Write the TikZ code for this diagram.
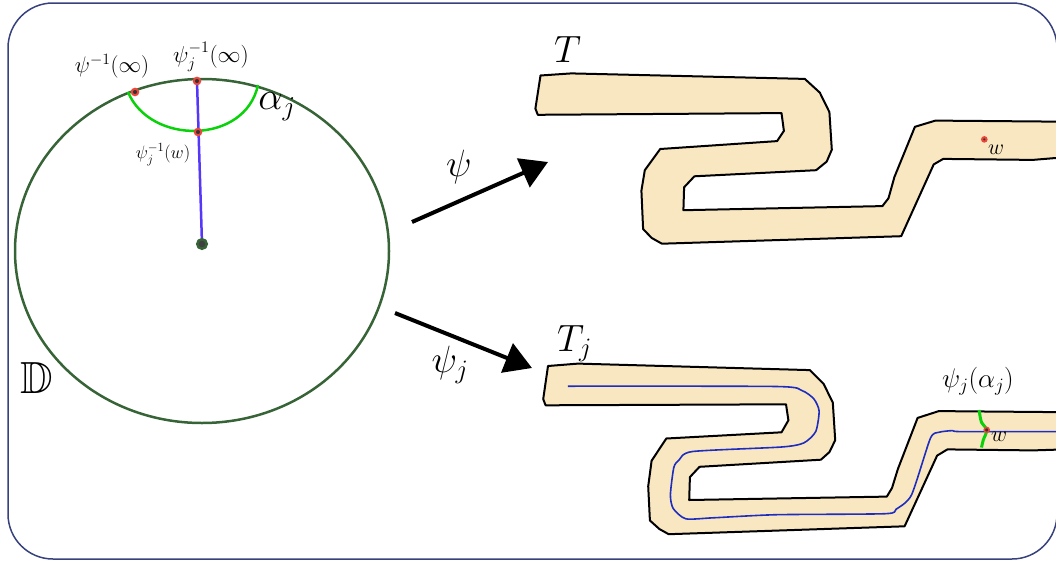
\RequirePackage{fix-cm}
\documentclass[tikz,border=0pt]{standalone}
\usepackage{amssymb}
\DeclareFontFamily{U}{msb}{}
\DeclareFontShape{U}{msb}{m}{n}{<-6> msbm5 <6-8> msbm7 <8-> msbm10}{}
\usetikzlibrary{arrows.meta}
\definecolor{frameblue}{RGB}{55,65,125}
\definecolor{diskgreen}{RGB}{55,100,55}
\definecolor{arcgreen}{RGB}{10,210,10}
\definecolor{tanfill}{RGB}{249,231,194}
\definecolor{curveblue}{RGB}{30,45,190}
\definecolor{radblue}{RGB}{85,55,250}
\definecolor{ptred}{RGB}{235,70,60}
\begin{document}
\begin{tikzpicture}[x=1pt,y=-1pt,
  lab/.style={inner sep=0pt, font=\fontsize{#1}{#1}\selectfont},
  tshape/.style={draw=black, fill=tanfill, line width=2pt, line join=round},
  ptn/.style={circle, fill=black!80, draw=ptred, line width=2pt, minimum size=6.5pt, inner sep=0pt},
  smallpt/.style={circle, fill=black!80, draw=ptred, line width=2pt, minimum size=4.5pt, inner sep=0pt},
  mapar/.style={line width=4pt, -{Triangle[length=27pt,width=31pt]}},
  arcg/.style={arcgreen, line width=2.5pt}
]
\useasboundingbox (0,0) rectangle (1056,562);
% frame
\draw[frameblue, line width=1.5pt, rounded corners=45pt] (8,3) rectangle (1057,559);
% disk
\draw[diskgreen, line width=2.5pt] (202,251) ellipse [x radius=187, y radius=172];
\coordinate (P1) at (135,92);
\coordinate (P2) at (197,81);
\coordinate (P3) at (198,132);
\coordinate (C0) at (202,244);
\coordinate (A1) at (128,92);
\coordinate (A2) at (258,85);
\draw[radblue, line width=2.5pt] (P2) -- (C0);
\draw[arcg] (A1) .. controls (150,145) and (245,145) .. (A2);
\node[ptn] (p1) at (P1) {};
\node[ptn] (p2) at (P2) {};
\node[ptn] (p3) at (P3) {};
\node[circle, fill=black!75, draw=diskgreen, line width=2.5pt, minimum size=9.5pt, inner sep=0pt] (c0) at (C0) {};
\node[lab=22.5] (l1) at (112,66) {$\psi^{-1}(\infty)$};
\node[lab=23] (l2) at (211,57) {$\psi_j^{-1}(\infty)$};
\node[lab=18] (l3) at (163,155) {$\psi_j^{-1}(w)$};
\node[lab=39] (l4) at (277,107) {$\alpha_j$};
\node[lab=45] (dd) at (37,378) {$\mathbb{D}$};
% arrows
\coordinate (s1) at (412,222);
\coordinate (e1) at (548,162);
\coordinate (s2) at (395,313);
\coordinate (e2) at (532,368);
\draw[mapar] (s1) -- (e1);
\draw[mapar] (s2) -- (e2);
\node[lab=38] (psi) at (459,167) {$\psi$};
\node[lab=38] (psij) at (450,365) {$\psi_j$};
% T
\draw[tshape] (540.5,75.5) -- (571.3,73.4) -- (804.8,78.9) -- (819.8,92.6) -- (829.4,112.1)
  -- (831.8,149.7) -- (826.7,161.6) -- (816.1,170.2) -- (694.4,176.3) -- (684.1,187.3)
  -- (683.4,210.2) -- (882.4,206.1) -- (888.5,198.2) -- (894.4,177.0) -- (914.9,126.8)
  -- (935.4,120.6) -- (1053.3,121.6) -- (1075,121.6) -- (1075,158) -- (1053.3,158.2) -- (1032.8,159.9)
  -- (943.2,158.9) -- (933.7,164.4) -- (901.2,236.2) -- (661.9,243.7) -- (651.6,237.9)
  -- (643.1,229.0) -- (641.4,190.7) -- (644.8,170.2) -- (660.2,149.0) -- (777.1,141.1)
  -- (783.9,130.9) -- (781.5,113.1) -- (537.8,114.8) -- (535.4,108.6) -- cycle;
\node[smallpt] (wt) at (984.3,139.4) {};
\node[lab=22] (wtl) at (996,150) {$w$};
\node[lab=38, anchor=base west] (tl) at (554,62.5) {$T$};
% Tj
\draw[tshape] (548.0,366.0) -- (578.1,363.6) -- (809.9,370.1) -- (823.6,383.8) -- (832.8,402.6)
  -- (835.2,440.2) -- (829.4,452.1) -- (820.9,459.7) -- (699.5,466.8) -- (689.9,477.1)
  -- (689.2,500.0) -- (886.8,496.6) -- (892.0,488.0) -- (897.8,469.2) -- (917.6,417.9)
  -- (938.8,411.1) -- (1055.0,412.1) -- (1075,412.1) -- (1075,449.7) -- (1055.0,449.7) -- (1032.8,450.4)
  -- (947.4,449.4) -- (937.1,455.6) -- (904.6,526.3) -- (668.7,534.2) -- (659.5,529.1)
  -- (649.9,520.5) -- (648.2,486.3) -- (651.6,460.7) -- (666.3,438.5) -- (781.5,432.3)
  -- (788.4,420.3) -- (786.0,404.3) -- (545.6,405.3) -- (543.2,399.1) -- cycle;
\draw[curveblue, line width=1.6pt] plot[smooth, tension=0.4] coordinates {
  (567.9,386.2) (776.4,386.5) (802.1,390.6) (814.0,399.1) (819.1,411.1) (815.7,431.6)
  (803.8,442.9) (781.5,447.0) (692.6,451.5) (679.0,460.0) (673.8,467.5) (670.4,494.9)
  (673.2,508.5) (685.8,518.8) (713.2,517.8) (776.4,514.7) (885.1,513.7) (896.1,509.2)
  (911.5,494.9) (930.3,438.5) (938.8,432.3) (952.5,430.6) (961.0,431.6) (1055.0,431.6) (1075,431.6)};
\draw[arcg, line width=3pt] plot[smooth, tension=0.6] coordinates {
  (979.1,410) (981.5,422.4) (986.7,429.9) (983.2,440.2) (981.5,447.5)};
\node[ptn, minimum size=5pt, line width=1.5pt] (wj) at (986.7,429.9) {};
\node[lab=22] (wjl) at (999,437) {$w$};
\node[lab=27] (aj) at (978,381) {$\psi_j(\alpha_j)$};
\node[lab=38, anchor=base west] (tjl) at (557,351) {$T_j$};
\end{tikzpicture}
\end{document}
